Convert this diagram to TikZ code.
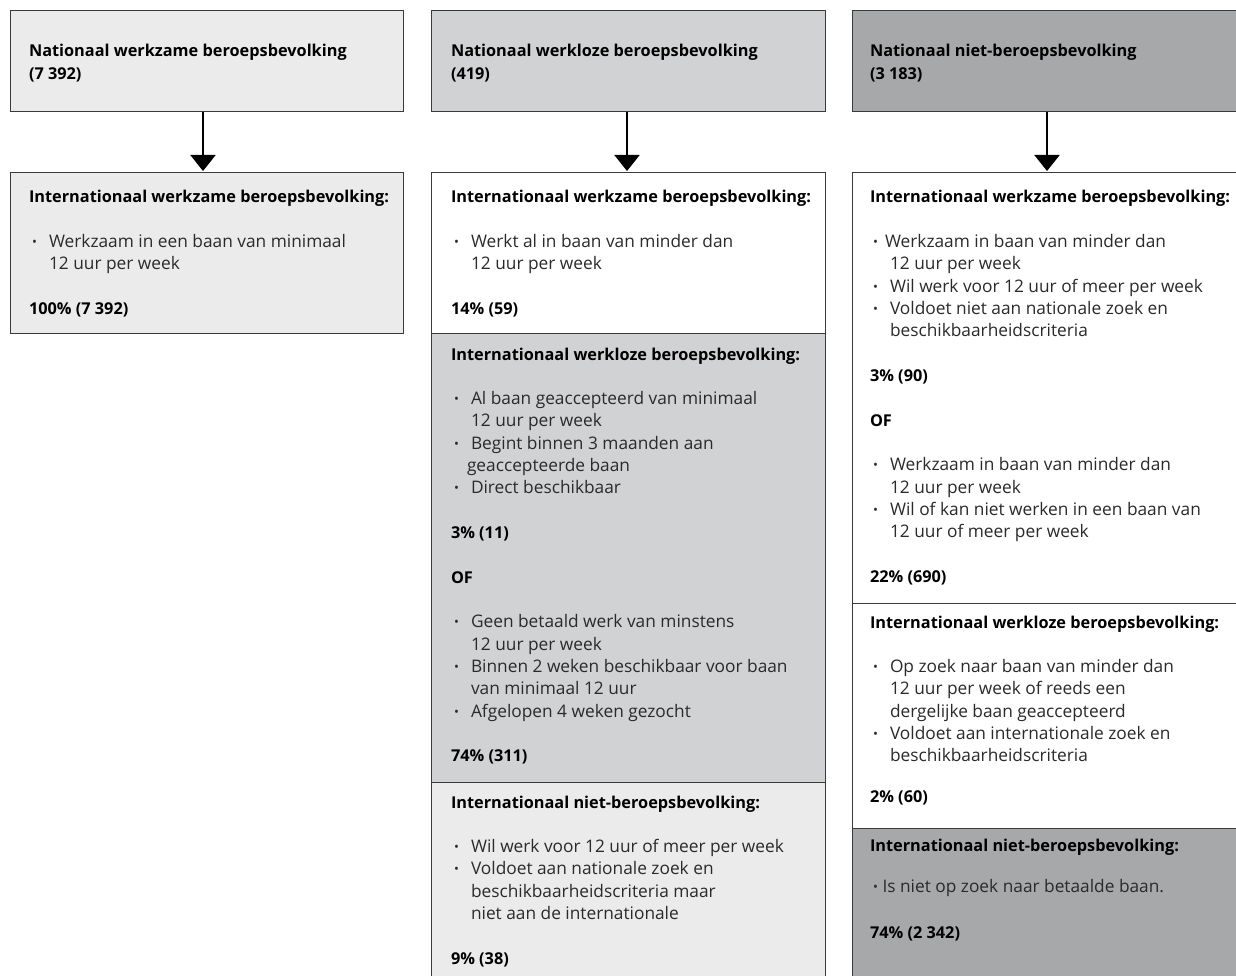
\documentclass[tikz,border=0pt]{standalone}
\usepackage{fontspec}
\setmainfont{Open Sans}
\usetikzlibrary{arrows.meta}
\definecolor{lightg}{HTML}{EBEBEB}
\definecolor{midg}{HTML}{D1D2D4}
\definecolor{darkg}{HTML}{A7A8AA}
\definecolor{edge}{HTML}{3A3A3A}
\definecolor{bodytxt}{HTML}{2A2A2A}
\newcommand\bul{{\fontsize{13}{13}\selectfont\raisebox{1pt}{•}}}
\newcommand\itm[1]{\makebox[20pt][l]{\hspace{3pt}\bul}#1}
\newcommand\itmA[1]{\makebox[15pt][l]{\hspace{3pt}\bul}#1}
\newcommand\itmC[1]{\makebox[12.5pt][l]{\hspace{3pt}\bul}#1}
\newcommand\cnt[1]{\hspace*{20pt}#1}
\newcommand\cntB[1]{\hspace*{16pt}#1}
\newcommand\hd[1]{{\fontsize{16.3}{22.33}\selectfont\bfseries\color{black}#1}}
\begin{document}
\begin{tikzpicture}[x=1pt,y=-1pt,
  box/.style={draw=edge, line width=1pt, anchor=north west, inner sep=0pt, outer sep=0pt},
  txt/.style={anchor=base west, inner sep=0pt, outer sep=0pt, text=bodytxt, font=\fontsize{17.3}{22.33}\selectfont},
  arr/.style={line width=2pt, -{Triangle[width=25pt,length=16pt]}, shorten >=2pt}]
\useasboundingbox (0,0) rectangle (1236,976);
\clip (0,0) rectangle (1236,976);
% column 1
\node[box, fill=lightg, minimum width=393pt, minimum height=101pt] (top1) at (10,11) {};
\node[box, fill=lightg, minimum width=393pt, minimum height=160pt] (low1) at (10,173) {};
% column 2
\node[box, fill=midg, minimum width=394pt, minimum height=101pt] (top2) at (431,11) {};
\node[box, fill=white, minimum width=394pt, minimum height=160pt] (w2) at (431,173) {};
\node[box, fill=midg, minimum width=394pt, minimum height=449pt] (u2) at (431,333) {};
\node[box, fill=lightg, minimum width=394pt, minimum height=200pt] (n2) at (431,782) {};
% column 3
\node[box, fill=darkg, minimum width=400pt, minimum height=101pt] (top3) at (852,11) {};
\node[box, fill=white, minimum width=400pt, minimum height=430pt] (w3) at (852,173) {};
\node[box, fill=white, minimum width=400pt, minimum height=225pt] (u3) at (852,603) {};
\node[box, fill=darkg, minimum width=400pt, minimum height=160pt] (n3) at (852,828) {};
% arrows
\draw[arr] ([xshift=-3.5pt]top1.south) -- ([xshift=-3.5pt]low1.north);
\draw[arr] ([xshift=-1pt]top2.south) -- ([xshift=-1pt]w2.north);
\draw[arr] ([xshift=-5pt]top3.south) -- ([xshift=-5pt]w3.north);
% texts
\node[txt] (tt1) at (29,57) {\begin{tabular}[t]{@{}l@{}}\hd{Nationaal werkzame beroepsbevolking}\\ \hd{(7 392)}\end{tabular}};
\node[txt] (tt2) at (451,57) {\begin{tabular}[t]{@{}l@{}}\hd{Nationaal werkloze beroepsbevolking}\\ \hd{(419)}\end{tabular}};
\node[txt] (tt3) at (870,57) {\begin{tabular}[t]{@{}l@{}}\hd{Nationaal niet-beroepsbevolking}\\ \hd{(3 183)}\end{tabular}};
\node[txt] (tl1) at (29,203) {\begin{tabular}[t]{@{}l@{}}
\hd{Internationaal werkzame beroepsbevolking:}\\ \\
\itm{Werkzaam in een baan van minimaal}\\
\cnt{12 uur per week}\\ \\
\hd{100\% (7 392)}\end{tabular}};
\node[txt] (tw2) at (451,203) {\begin{tabular}[t]{@{}l@{}}
\hd{Internationaal werkzame beroepsbevolking:}\\ \\
\itm{Werkt al in baan van minder dan}\\
\cnt{12 uur per week}\\ \\
\hd{14\% (59)}\end{tabular}};
\node[txt] (tu2) at (451,360) {\begin{tabular}[t]{@{}l@{}}
\hd{Internationaal werkloze beroepsbevolking:}\\ \\
\itm{Al baan geaccepteerd van minimaal}\\
\cnt{12 uur per week}\\
\itm{Begint binnen 3 maanden aan}\\
\cntB{geaccepteerde baan}\\
\itm{Direct beschikbaar}\\ \\
\hd{3\% (11)}\\ \\
\hd{OF}\\ \\
\itm{Geen betaald werk van minstens}\\
\cnt{12 uur per week}\\
\itm{Binnen 2 weken beschikbaar voor baan}\\
\cnt{van minimaal 12 uur}\\
\itm{Afgelopen 4 weken gezocht}\\ \\
\hd{74\% (311)}\end{tabular}};
\node[txt] (tn2) at (451,808) {\begin{tabular}[t]{@{}l@{}}
\hd{Internationaal niet-beroepsbevolking:}\\ \\
\itm{Wil werk voor 12 uur of meer per week}\\
\itm{Voldoet aan nationale zoek en}\\
\cnt{beschikbaarheidscriteria maar}\\
\cnt{niet aan de internationale}\\ \\
\hd{9\% (38)}\end{tabular}};
\node[txt] (tw3) at (870,203) {\begin{tabular}[t]{@{}l@{}}
\hd{Internationaal werkzame beroepsbevolking:}\\ \\
\itmA{Werkzaam in baan van minder dan}\\
\cnt{12 uur per week}\\
\itm{Wil werk voor 12 uur of meer per week}\\
\itm{Voldoet niet aan nationale zoek en}\\
\cnt{beschikbaarheidscriteria}\\ \\
\hd{3\% (90)}\\ \\
\hd{OF}\\ \\
\itm{Werkzaam in baan van minder dan}\\
\cnt{12 uur per week}\\
\itm{Wil of kan niet werken in een baan van}\\
\cnt{12 uur of meer per week}\\ \\
\hd{22\% (690)}\end{tabular}};
\node[txt] (tu3) at (870,628) {\begin{tabular}[t]{@{}l@{}}
\hd{Internationaal werkloze beroepsbevolking:}\\ \\
\itm{Op zoek naar baan van minder dan}\\
\cnt{12 uur per week of reeds een}\\
\cnt{dergelijke baan geaccepteerd}\\
\itm{Voldoet aan internationale zoek en}\\
\cnt{beschikbaarheidscriteria}\\ \\[-4.5pt]
\hd{2\% (60)}\end{tabular}};
\node[txt] (tn3) at (870,851) {\begin{tabular}[t]{@{}l@{}}
\hd{Internationaal niet-beroepsbevolking:}\\ \\[-3.5pt]
\itmC{Is niet op zoek naar betaalde baan.}\\ \\[1.5pt]
\hd{74\% (2 342)}\end{tabular}};
\end{tikzpicture}
\end{document}
